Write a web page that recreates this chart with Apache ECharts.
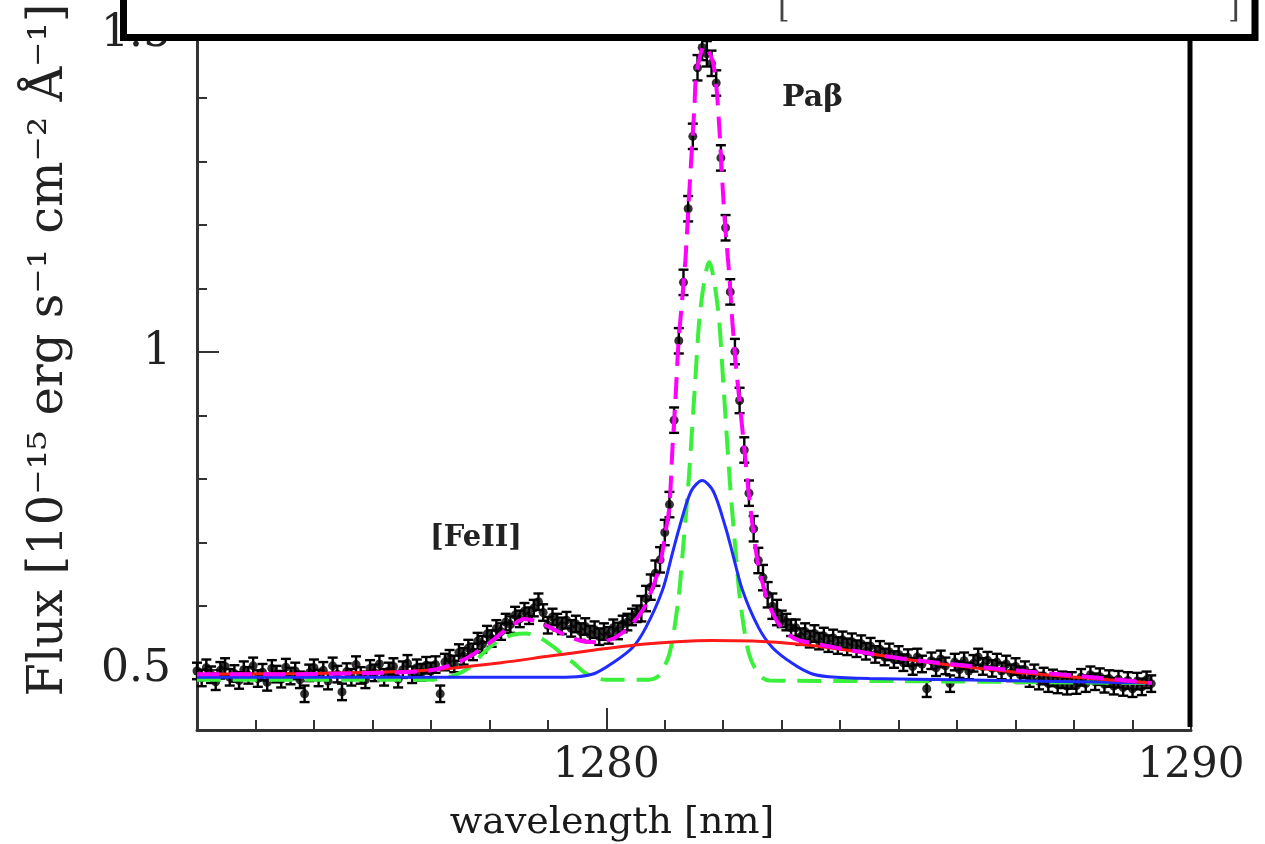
<!DOCTYPE html>
<html><head><meta charset="utf-8">
<script src="https://cdn.jsdelivr.net/npm/echarts@6/dist/echarts.min.js"></script>
<style>html,body{margin:0;padding:0;background:#fff}#c{width:1265px;height:844px}</style>
</head><body><div id="c"></div>
<script>
// ---- data ----
const lambdaStart = 1273.0;   // first wavelength sample [nm]
const lambdaStep = 0.08;      // spectral sampling [nm]
const flux = [
 .498,.487,.503,.492,.481,.499,.505,.488,.494,.483,
 .500,.491,.506,.486,.496,.480,.502,.493,.485,.504,
 .490,.498,.484,.462,.495,.503,.487,.499,.482,.506,
 .493,.465,.497,.488,.508,.491,.484,.502,.495,.509,
 .488,.498,.505,.485,.500,.510,.492,.503,.496,.507,
 .498,
 .508,.462,.512,.518,.509,.527,.521,.534,.528,.545,
 .540,.556,.549,.565,.560,.575,.571,.586,.580,.592,
 .585,.597,.607,.590,.570,.583,.575,.569,.578,.565,
 .572,.560,.568,.556,.563,.552,.560,.554,.566,.561,
 .572,.575,.583,
 .588,.596,.612,.630,.652,.673,.716,.760,.893,1.018,
 1.110,1.226,1.340,1.448,1.480,1.470,1.455,1.424,1.306,1.196,
 1.095,1.001,.924,.846,.778,.722,.672,.645,.618,.600,
 .590,.580,.575,.566,
 .566,.552,.560,.548,.557,.545,.553,.541,.550,.538,
 .547,.536,.544,.533,.541,.529,.537,.524,.532,.520,
 .528,.516,.524,.511,.519,.505,.520,.509,.470,.514,
 .503,.517,.506,.478,.512,.500,.514,.498,.510,.520,
 .505,.515,.502,.512,.498,.509,.495,.505,.492,.500,
 .486,.495,.482,.490,.478,.487,.476,.484,.474,.483,
 .475,.488,.478,.492,.481,.489,.477,.486,.474,.485,
 .472,.483,.470,.482,.473,.484,.478
];
// error bar half-length per wavelength range [from, to, err]
const fluxErrRanges = [[1272.9, 1280.6, 0.013], [1280.6, 1283.0, 0.020], [1283.0, 1289.5, 0.013]];

// model curves [wavelength, flux]
const totalFit = [
 [1273.0,.493],[1274.7,.493],[1276.5,.496],[1277.0,.499],[1277.3,.506],[1277.65,.520],[1278.0,.542],
 [1278.34,.567],[1278.6,.580],[1278.85,.575],[1279.2,.559],[1279.54,.546],[1279.88,.543],[1280.14,.550],
 [1280.394,.567],[1280.651,.598],[1280.908,.661],[1281.010,.715],[1281.079,.756],[1281.130,.846],
 [1281.182,.924],[1281.233,1.014],[1281.284,1.068],[1281.353,1.145],[1281.404,1.228],[1281.455,1.307],
 [1281.507,1.386],[1281.541,1.439],[1281.678,1.483],[1281.815,1.460],[1281.884,1.417],[1281.935,1.350],
 [1282.021,1.213],[1282.106,1.118],[1282.158,1.046],[1282.209,.987],[1282.277,.924],[1282.363,.846],
 [1282.449,.767],[1282.586,.672],[1282.757,.609],[1282.928,.575],[1283.134,.554],[1283.305,.546],
 [1284.16,.531],[1285.02,.518],[1285.87,.509],[1286.73,.501],[1287.59,.494],[1288.44,.487],[1289.33,.479]
];
const narrowLines = [
 [1273.0,.484],[1277.0,.484],[1277.14,.486],[1277.40,.491],[1277.65,.503],[1277.83,.520],[1278.00,.535],
 [1278.17,.546],[1278.40,.555],[1278.63,.557],[1278.87,.550],[1279.11,.535],[1279.30,.520],[1279.45,.510],
 [1279.62,.496],[1279.79,.488],[1280.0,.484],[1280.73,.484],[1280.90,.491],[1281.08,.525],[1281.23,.609],
 [1281.31,.688],[1281.41,.800],[1281.52,.953],[1281.61,1.068],[1281.76,1.142],[1281.91,1.068],[1282.00,.953],
 [1282.11,.800],[1282.21,.688],[1282.29,.609],[1282.44,.525],[1282.62,.491],[1282.79,.483],[1285.0,.482],
 [1289.33,.479]
];
const broadPaB = [
 [1273.0,.488],[1276.0,.488],[1278.0,.488],[1279.0,.488],[1279.5,.489],[1279.8,.494],[1280.10,.510],
 [1280.45,.535],[1280.68,.567],[1280.96,.625],[1281.13,.683],[1281.25,.724],[1281.45,.781],[1281.64,.798],
 [1281.83,.781],[1282.04,.724],[1282.16,.683],[1282.33,.625],[1282.60,.567],[1282.84,.535],[1283.18,.510],
 [1283.5,.494],[1283.8,.489],[1284.5,.486],[1286.0,.484],[1288.0,.481],[1289.33,.479]
];
const veryBroad = [
 [1273.0,.493],[1275.0,.494],[1276.5,.497],[1277.3,.502],[1278.2,.511],[1279.0,.521],[1279.8,.531],
 [1280.5,.539],[1281.2,.544],[1281.8,.546],[1282.5,.545],[1283.3,.540],[1284.1,.531],[1285.0,.518],
 [1286.0,.506],[1287.0,.496],[1288.2,.487],[1289.33,.479]
];
const xMinorTicks = [1274,1275,1276,1277,1278,1279,1280,1281,1282,1283,1284,1285,1286,1287,1288,1289,1290];
const xMajorTicks = [1280, 1290];
const yMinorTicks = [0.5,0.6,0.7,0.8,0.9,1.0,1.1,1.2,1.3,1.4,1.5];
const yMajorTicks = [0.5, 1, 1.5];
const xTitle = 'wavelength [nm]';
const yTitle = 'Flux [10\u207B\u00B9\u2075 erg s\u207B\u00B9 cm\u207B\u00B2 \u00C5\u207B\u00B9]';
const lineLabels = ['Pa\u03B2', '[FeII]'];

// ---- build ----
const pts = flux.map((f, i) => {
  const lam = +(lambdaStart + i * lambdaStep).toFixed(2);
  const r = fluxErrRanges.find(d => lam >= d[0] && lam < d[1]);
  return [lam, f, r ? r[2] : 0.013];
});

const FONT = 'DejaVu Serif';
const AX = '#333';
const chart = echarts.init(document.getElementById('c'), null, {renderer: 'canvas'});

function xAxisBase(extra) {
  return Object.assign({type: 'value', min: 1273, max: 1290, position: 'bottom', offset: 0,
    splitLine: {show: false}}, extra);
}
function yAxisBase(extra) {
  return Object.assign({type: 'value', min: 0.405, max: 1.55, position: 'left', offset: 0,
    splitLine: {show: false}}, extra);
}

const option = {
  animation: false,
  backgroundColor: '#fff',
  grid: {left: 197, right: 74, top: 3, bottom: 114},
  xAxis: [
    xAxisBase({axisLine: {show: true, lineStyle: {color: AX, width: 3}},
      axisTick: {show: true, inside: true, length: 10, customValues: xMinorTicks, lineStyle: {color: AX, width: 2}},
      axisLabel: {show: false}}),
    xAxisBase({axisLine: {show: false},
      axisTick: {show: true, inside: true, length: 22, customValues: xMajorTicks, lineStyle: {color: AX, width: 2}},
      axisLabel: {show: true, customValues: xMajorTicks, margin: 15, fontFamily: FONT, fontSize: 42, color: '#222',
        formatter: v => String(v), showMinLabel: true, showMaxLabel: true}})
  ],
  yAxis: [
    yAxisBase({axisLine: {show: true, lineStyle: {color: AX, width: 3}},
      axisTick: {show: true, inside: true, length: 10, customValues: yMinorTicks, lineStyle: {color: AX, width: 2}},
      axisLabel: {show: false}}),
    yAxisBase({axisLine: {show: false},
      axisTick: {show: true, inside: true, length: 22, customValues: yMajorTicks, lineStyle: {color: AX, width: 2}},
      axisLabel: {show: true, customValues: yMajorTicks, margin: 26, fontFamily: FONT, fontSize: 44, color: '#222',
        formatter: v => String(v), showMinLabel: true, showMaxLabel: true}})
  ],
  series: [
    {type: 'custom', name: 'err', xAxisIndex: 0, yAxisIndex: 0, z: 2, silent: true,
      encode: {x: 0, y: 1},
      renderItem: (params, api) => {
        const x = api.value(0), y = api.value(1), e = api.value(2);
        const a = api.coord([x, y + e]), b = api.coord([x, y - e]);
        const c = 5, st = {stroke: '#000', lineWidth: 2.4};
        return {type: 'group', children: [
          {type: 'line', shape: {x1: a[0], y1: a[1], x2: b[0], y2: b[1]}, style: st},
          {type: 'line', shape: {x1: a[0] - c, y1: a[1], x2: a[0] + c, y2: a[1]}, style: st},
          {type: 'line', shape: {x1: b[0] - c, y1: b[1], x2: b[0] + c, y2: b[1]}, style: st}
        ]};
      },
      data: pts},
    {type: 'scatter', name: 'data', z: 3, symbol: 'circle', symbolSize: 9, itemStyle: {color: '#000'},
      data: pts.map(p => [p[0], p[1]]), silent: true},
    {type: 'line', name: 'narrow', z: 4, showSymbol: false, smooth: 0.3, data: narrowLines,
      lineStyle: {color: '#3af03a', width: 4, type: [24, 12]}},
    {type: 'line', name: 'broad', z: 5, showSymbol: false, smooth: 0.3, data: broadPaB,
      lineStyle: {color: '#1f2bff', width: 3}},
    {type: 'line', name: 'verybroad', z: 6, showSymbol: false, smooth: 0.3, data: veryBroad,
      lineStyle: {color: '#ff1a1a', width: 3}},
    {type: 'line', name: 'total', z: 7, showSymbol: false, smooth: 0.25, data: totalFit,
      lineStyle: {color: '#ff00ff', width: 4, type: [22, 11]}}
  ],
  graphic: [
    {type: 'text', z: 50, x: 782, y: 83, style: {text: lineLabels[0], font: 'bold 30px "DejaVu Serif"', fill: '#222'}},
    {type: 'text', z: 50, x: 430, y: 524, style: {text: lineLabels[1], font: 'bold 29px "DejaVu Serif"', fill: '#222'}},
    {type: 'text', z: 50, x: 612, y: 823, style: {text: xTitle, font: '38px "DejaVu Serif"', fill: '#1a1a1a',
      align: 'center', verticalAlign: 'middle'}},
    {type: 'text', z: 50, x: 50, y: 350, rotation: Math.PI / 2, style: {text: yTitle, font: '48px "DejaVu Serif"',
      fill: '#222', align: 'center', verticalAlign: 'middle'}},
    {type: 'rect', z: 100, shape: {x: 123.5, y: -20, width: 1131.5, height: 57.5},
      style: {fill: '#fff', stroke: '#000', lineWidth: 7}},
    {type: 'text', z: 101, x: 778, y: -6, style: {text: '[', font: '30px "DejaVu Serif"', fill: '#444'}},
    {type: 'text', z: 101, x: 1228, y: -6, style: {text: ']', font: '30px "DejaVu Serif"', fill: '#444'}},
    {type: 'line', z: 100, shape: {x1: 1190, y1: 40, x2: 1190, y2: 727}, style: {stroke: '#000', lineWidth: 5}}
  ]
};
chart.setOption(option);
</script></body></html>
